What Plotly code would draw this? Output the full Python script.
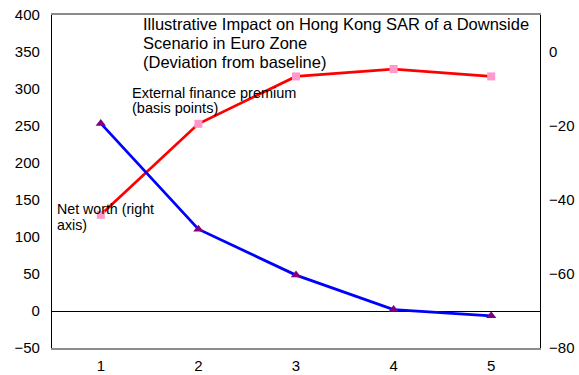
import plotly.graph_objects as go

# Scenario periods
periods = [1, 2, 3, 4, 5]
# External finance premium, basis points (left axis)
finance_premium = [130, 253, 317, 327, 317]
# Net worth, deviation from baseline (right axis)
net_worth = [-19.3, -47.9, -60.3, -69.6, -71.3]

left_ticks = [-50, 0, 50, 100, 150, 200, 250, 300, 350, 400]
right_ticks = [-80, -60, -40, -20, 0]

title_lines = [
    "Illustrative Impact on Hong Kong SAR of a Downside",
    "Scenario in Euro Zone",
    "(Deviation from baseline)",
]
premium_label = ["External finance premium", "(basis points)"]
networth_label = ["Net worth (right", "axis)"]

FONT = "Liberation Sans, Arial, sans-serif"

# Plot area geometry in pixels (used to place the free text labels)
L, R, T, B = 52, 540, 15, 348
W, H = 579, 375


def px_x(px):
    return (px - L) / (R - L)


def px_y(py):
    return (B - py) / (B - T)


fig = go.Figure()
fig.add_trace(go.Scatter(
    x=periods, y=finance_premium, mode="lines+markers",
    line=dict(color="#FF0000", width=2.75),
    marker=dict(symbol="square", size=8, color="#FF99CC"),
    name="External finance premium", yaxis="y",
))
fig.add_trace(go.Scatter(
    x=periods, y=net_worth, mode="lines+markers",
    line=dict(color="#0000FF", width=2.75),
    marker=dict(symbol="triangle-up", size=9, color="#800080"),
    name="Net worth", yaxis="y2",
))

annotations = []


def add_lines(lines, x_px, centers_px, size):
    for text, cy in zip(lines, centers_px):
        annotations.append(dict(
            text=text, xref="paper", yref="paper",
            x=px_x(x_px), y=px_y(cy), xanchor="left", yanchor="middle",
            align="left", showarrow=False, borderpad=0,
            font=dict(size=size, family=FONT, color="black"),
        ))


add_lines(title_lines, 142, [24.5, 43, 61.5], 16.5)
add_lines(premium_label, 131, [93, 108.5], 14.5)
add_lines(networth_label, 55.5, [209, 225], 14.2)

fig.update_layout(
    width=W, height=H,
    margin=dict(l=L, r=W - R, t=T, b=H - B, autoexpand=False),
    paper_bgcolor="white", plot_bgcolor="white",
    showlegend=False,
    font=dict(family=FONT, size=15, color="black"),
    xaxis=dict(
        range=[0.5, 5.5], tickvals=periods, showgrid=False, zeroline=False,
        showline=True, linecolor="#8c8c8c", linewidth=1.5, mirror=True,
        ticks="", tickfont=dict(size=15), automargin=False,
        ticklabelstandoff=3,
    ),
    yaxis=dict(
        range=[-50, 400], tickvals=left_ticks, showgrid=False,
        zeroline=True, zerolinecolor="black", zerolinewidth=1.2,
        showline=True, linecolor="black", linewidth=1.2,
        ticks="", tickfont=dict(size=15), automargin=False,
        ticklabelstandoff=8,
    ),
    yaxis2=dict(
        range=[-80, 10], tickvals=right_ticks, overlaying="y", side="right",
        showgrid=False, zeroline=False,
        showline=True, linecolor="black", linewidth=1.2,
        ticks="", tickfont=dict(size=15), automargin=False,
        ticklabelstandoff=5,
    ),
    annotations=annotations,
)

fig.write_html("out.html")
